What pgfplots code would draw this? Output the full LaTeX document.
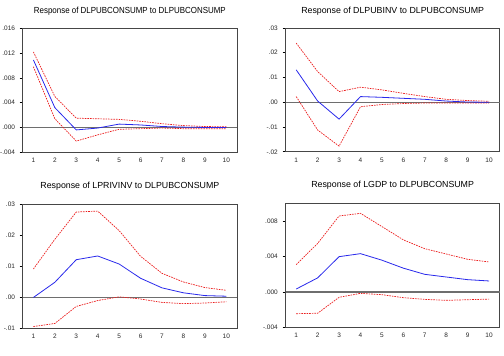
\documentclass[border=0pt]{standalone}
\usepackage{graphicx}
\usepackage{pgfplots}
\pgfplotsset{compat=1.18}
\usepackage{fontspec}
\setmainfont{Liberation Sans}

\definecolor{irfblue}{RGB}{40,40,235}
\definecolor{irfred}{RGB}{235,30,30}
\definecolor{zerogray}{RGB}{110,110,110}
\definecolor{framegray}{RGB}{70,70,70}

\pgfplotsset{
  irf/.style={
    scale only axis,
    width=214.3bp, height=123.8bp,
    xmin=0.5, xmax=10.5,
    scaled ticks=false,
    axis line style={framegray, line width=1bp},
    tick pos=left,
    tick align=outside,
    xtick={1,...,10},
    minor xtick={1.5,2.5,...,9.5},
    major tick length=3bp,
    minor tick length=3bp,
    every x tick/.style={line width=0pt, draw=none},
    every minor tick/.style={black, line width=0.6bp},
    every major tick/.style={black, line width=0.6bp},
    /pgf/number format/assume math mode=true,
    tick label style={font=\fontsize{6.5}{7}\selectfont, text=black!85},
    xticklabel style={anchor=north, inner sep=0pt, yshift=-2.8bp},
    yticklabel style={anchor=east, inner sep=0pt, xshift=-4.5bp},
    title style={font=\fontsize{8.85}{10}\selectfont, anchor=base, at={(0.5,1)}, yshift=9bp},
    clip=false,
  },
  lowrow/.style={title style={yshift=1.6bp}},
  resp/.style={irfblue, line width=0.8bp},
  band/.style={irfred, line width=0.7bp, dash pattern=on 1.6bp off 1bp},
  zero/.style={zerogray, line width=1.1bp},
}

\begin{document}
\begin{tikzpicture}
\useasboundingbox (0bp,0bp) rectangle (504bp,356bp);

% Response of DLPUBCONSUMP
\begin{axis}[irf, at={(22.7bp,203.8bp)}, anchor=south west,
  ymin=-0.004, ymax=0.016,
  ytick={-0.004,0,0.004,0.008,0.012,0.016},
  yticklabels={-.004,.000,.004,.008,.012,.016},
  title={\scalebox{0.9}[1]{Response of DLPUBCONSUMP to DLPUBCONSUMP}}]
  \addplot[zero] coordinates {(0.5,0) (10.5,0)};
  \addplot[band] coordinates {(1,0.0122)(2,0.0050)(3,0.0015)(4,0.0014)(5,0.0013)(6,0.0010)(7,0.0006)(8,0.0003)(9,0.00015)(10,0.0001)};
  \addplot[band] coordinates {(1,0.0098)(2,0.0014)(3,-0.0022)(4,-0.0012)(5,-0.0003)(6,-0.0002)(7,-0.0001)(8,-0.0002)(9,-0.0002)(10,-0.0002)};
  \addplot[resp] coordinates {(1,0.0109)(2,0.0032)(3,-0.0004)(4,-0.0001)(5,0.00054)(6,0.0004)(7,0.00015)(8,0.00005)(9,0)(10,0)};
\end{axis}

% Response of DLPUBINV
\begin{axis}[irf, at={(285.5bp,204.2bp)}, anchor=south west,
  ymin=-0.02, ymax=0.03,
  ytick={-0.02,-0.01,0,0.01,0.02,0.03},
  yticklabels={-.02,-.01,.00,.01,.02,.03},
  title={Response of DLPUBINV to DLPUBCONSUMP}]
  \addplot[zero] coordinates {(0.5,0) (10.5,0)};
  \addplot[band] coordinates {(1,0.0239)(2,0.0124)(3,0.0043)(4,0.0061)(5,0.0050)(6,0.0036)(7,0.0023)(8,0.0012)(9,0.0007)(10,0.0004)};
  \addplot[band] coordinates {(1,0.0023)(2,-0.0112)(3,-0.0177)(4,-0.0018)(5,-0.0009)(6,-0.0005)(7,-0.0003)(8,-0.0003)(9,-0.0003)(10,-0.0003)};
  \addplot[resp] coordinates {(1,0.0131)(2,0.0005)(3,-0.0068)(4,0.0023)(5,0.0020)(6,0.0016)(7,0.0012)(8,0.0005)(9,0.0001)(10,0)};
\end{axis}

% Response of LPRIVINV
\begin{axis}[irf, lowrow, at={(22.7bp,27.6bp)}, anchor=south west,
  ymin=-0.01, ymax=0.03,
  ytick={-0.01,0,0.01,0.02,0.03},
  yticklabels={-.01,.00,.01,.02,.03},
  title={Response of LPRIVINV to DLPUBCONSUMP}]
  \addplot[zero] coordinates {(0.5,0) (10.5,0)};
  \addplot[band] coordinates {(1,0.0092)(2,0.0188)(3,0.0276)(4,0.0279)(5,0.0216)(6,0.0133)(7,0.0078)(8,0.0050)(9,0.0032)(10,0.0023)};
  \addplot[band] coordinates {(1,-0.0094)(2,-0.0084)(3,-0.0029)(4,-0.0010)(5,0.0002)(6,-0.0005)(7,-0.0016)(8,-0.0020)(9,-0.0018)(10,-0.0014)};
  \addplot[resp] coordinates {(1,0)(2,0.0049)(3,0.0122)(4,0.0134)(5,0.0108)(6,0.0062)(7,0.0031)(8,0.0015)(9,0.0006)(10,0.0004)};
\end{axis}

% Response of LGDP
\begin{axis}[irf, lowrow, at={(285.5bp,28.6bp)}, anchor=south west,
  ymin=-0.004, ymax=0.010,
  ytick={-0.004,0,0.004,0.008},
  yticklabels={-.004,.000,.004,.008},
  title={Response of LGDP to DLPUBCONSUMP}]
  \addplot[zero] coordinates {(0.5,0) (10.5,0)};
  \addplot[band] coordinates {(1,0.0031)(2,0.0055)(3,0.0086)(4,0.0089)(5,0.0074)(6,0.0059)(7,0.0049)(8,0.0043)(9,0.0037)(10,0.0034)};
  \addplot[band] coordinates {(1,-0.00245)(2,-0.0024)(3,-0.0006)(4,-0.00015)(5,-0.0003)(6,-0.00064)(7,-0.00083)(8,-0.00094)(9,-0.00087)(10,-0.0008)};
  \addplot[resp] coordinates {(1,0.00034)(2,0.0016)(3,0.0040)(4,0.00434)(5,0.0036)(6,0.0027)(7,0.0020)(8,0.0017)(9,0.0014)(10,0.00125)};
\end{axis}
\end{tikzpicture}
\end{document}
